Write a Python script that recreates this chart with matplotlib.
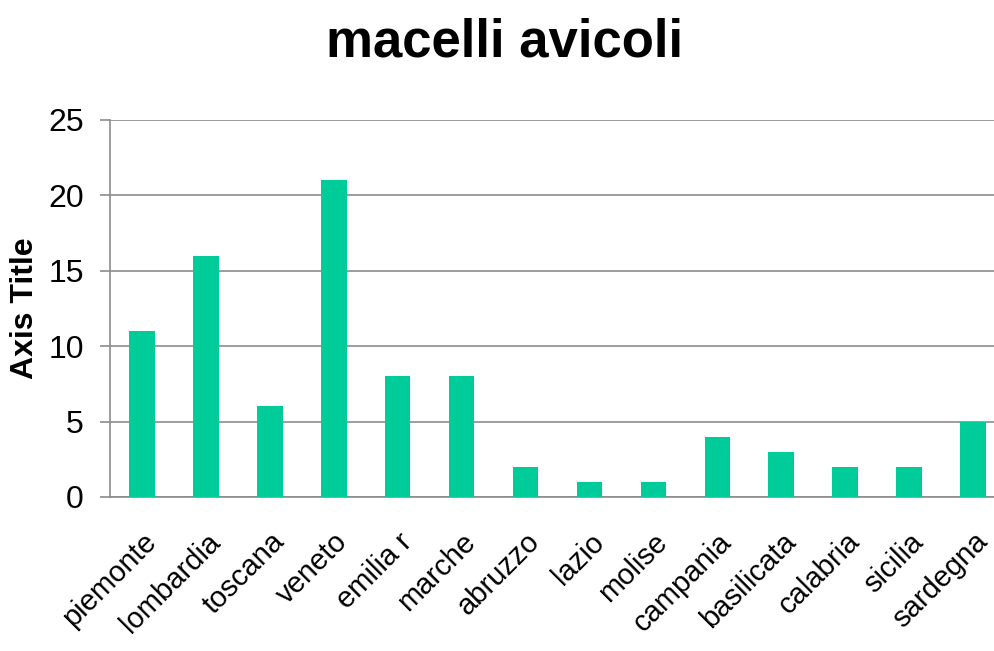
import matplotlib.pyplot as plt
import numpy as np

plt.rcParams['font.family'] = ['Liberation Sans', 'DejaVu Sans']

regions = ["piemonte", "lombardia", "toscana", "veneto", "emilia r", "marche",
           "abruzzo", "lazio", "molise", "campania", "basilicata", "calabria",
           "sicilia", "sardegna"]
counts = [11, 16, 6, 21, 8, 8, 2, 1, 1, 4, 3, 2, 2, 5]
y_ticks = [0, 5, 10, 15, 20, 25]

bar_color = "#00CC99"
grid_color = "#8C8C8C"

fig = plt.figure(figsize=(9.94, 6.51), dpi=100)
ax = fig.add_axes([0.1107, 0.2366, 0.9003, 0.5791])

x = np.arange(len(regions))
ax.bar(x, counts, width=0.4, color=bar_color, zorder=3)

ax.set_xlim(-0.5, len(regions) - 0.5)
ax.set_ylim(0, 25)
ax.set_yticks(y_ticks)
ax.set_yticklabels([str(v) for v in y_ticks], fontsize=23)
ax.set_xticks(x)
ax.set_xticklabels(regions, fontsize=21, rotation=45, ha="right",
                   rotation_mode="anchor")

ax.grid(axis="y", color=grid_color, linewidth=1.2, zorder=0)
for side in ("top", "right"):
    ax.spines[side].set_visible(False)
for side in ("left", "bottom"):
    ax.spines[side].set_color(grid_color)
    ax.spines[side].set_linewidth(1.2)
ax.tick_params(axis="y", length=7, color=grid_color, width=1.2, pad=12)
ax.tick_params(axis="x", length=0, pad=22)

ax.set_ylabel("Axis Title", fontsize=23, fontweight="bold", labelpad=6)
fig.text(0.508, 0.935, "macelli avicoli", fontsize=38, fontweight="bold",
         ha="center", va="center")

fig.savefig("out.png", dpi=100)
